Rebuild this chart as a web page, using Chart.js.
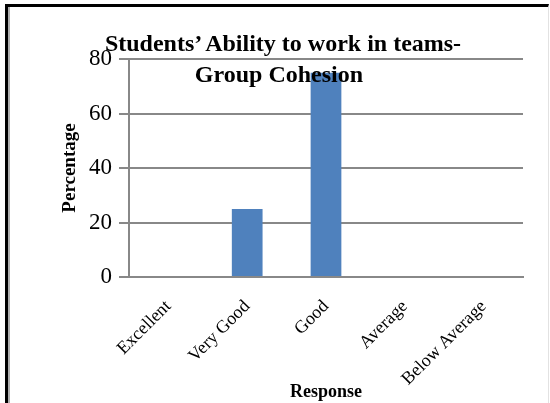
<!DOCTYPE html>
<html>
<head>
<meta charset="utf-8">
<script src="https://cdn.jsdelivr.net/npm/chart.js@4.4.0/dist/chart.umd.min.js"></script>
<style>
  html, body { margin: 0; padding: 0; background: #fff; }
  #wrap { position: relative; width: 550px; height: 403px; overflow: hidden; }
  #frame {
    position: absolute; left: 5px; top: 4px; width: 540px; height: 396px;
    border-left: 3px solid #000; border-top: 3px solid #000;
    border-right: 1px solid #e2e2e2; border-bottom: 1px solid #e8e8e8;
    box-shadow: inset 2px 0 0 #b0b0b0;
  }
  #chart { position: absolute; left: 0; top: 0; }
  .title {
    position: absolute; width: 400px;
    text-align: center; font: bold 24px "Liberation Serif", "Times New Roman", serif;
    line-height: 31px; color: #000; pointer-events: none; white-space: nowrap;
  }
  #title1 { left: 83px; top: 28px; }
  #title2 { left: 79px; top: 59px; }
</style>
</head>
<body>
<div id="wrap">
  <div id="frame"></div>
  <canvas id="chart" width="550" height="403"></canvas>
  <div class="title" id="title1">Students’ Ability to work in teams-</div>
  <div class="title" id="title2">Group Cohesion</div>
</div>
<script>
// Datos del gráfico
const categories = ['Excellent', 'Very Good', 'Good', 'Average', 'Below Average'];
const percentages = [0, 25, 75, 0, 0];
const yTicks = [0, 20, 40, 60, 80];

const gridColor = '#888888';
const serif = '"Liberation Serif", "Times New Roman", serif';

const ctx = document.getElementById('chart').getContext('2d');
new Chart(ctx, {
    type: 'bar',
    data: {
        labels: categories,
        datasets: [{
            label: 'Percentage',
            data: percentages,
            backgroundColor: '#4F81BD',
            borderWidth: 0,
            categoryPercentage: 1,
            barPercentage: 0.39
        }]
    },
    options: {
        responsive: false,
        animation: false,
        layout: { padding: { left: 0, right: 27, top: 59, bottom: 0 } },
        plugins: {
            legend: { display: false },
            tooltip: { enabled: false }
        },
        scales: {
            x: {
                grid: { display: false },
                border: { display: true, color: gridColor, width: 2 },
                ticks: {
                    color: '#000',
                    font: { family: serif, size: 18 },
                    minRotation: 45,
                    maxRotation: 45,
                    padding: 11
                },
                title: {
                    display: true,
                    text: 'Response',
                    color: '#000',
                    font: { family: serif, size: 18, weight: 'bold' },
                    padding: { top: 0, bottom: 0 }
                },
                afterFit: s => { s.height = 403 - 277; }
            },
            y: {
                min: yTicks[0],
                max: yTicks[yTicks.length - 1],
                afterBuildTicks: s => { s.ticks = yTicks.map(v => ({ value: v })); },
                grid: { color: gridColor, lineWidth: 2, tickLength: 10, tickColor: gridColor },
                border: { display: true, color: gridColor, width: 2 },
                ticks: {
                    color: '#000',
                    font: { family: serif, size: 23 },
                    padding: 7
                },
                title: {
                    display: true,
                    text: 'Percentage',
                    color: '#000',
                    font: { family: serif, size: 19, weight: 'bold' },
                    padding: { top: 59, bottom: 0 }
                },
                afterFit: s => { s.width = 129; }
            }
        }
    }
});
</script>
</body>
</html>
